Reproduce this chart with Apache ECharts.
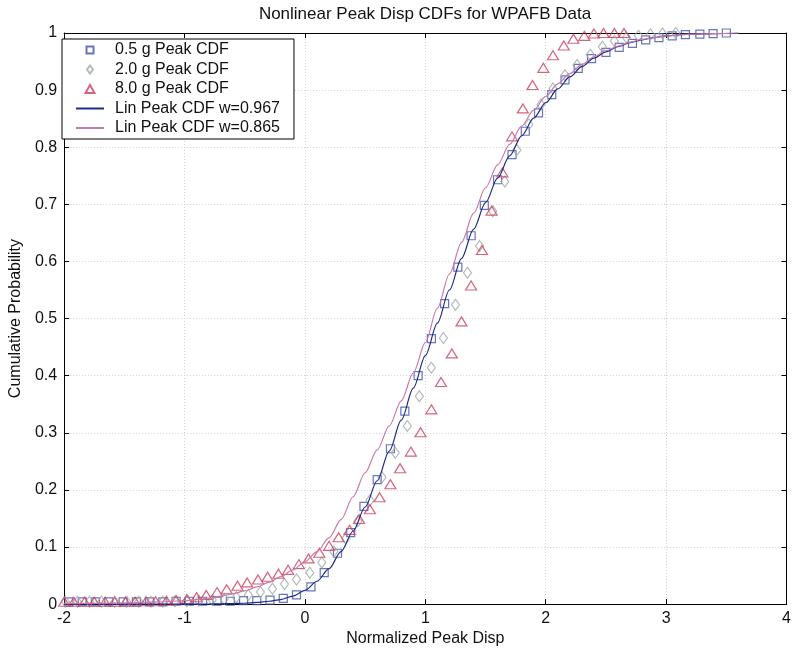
<!DOCTYPE html>
<html>
<head>
<meta charset="utf-8">
<script src="https://cdn.jsdelivr.net/npm/echarts@6/dist/echarts.min.js"></script>
<style>
html,body{margin:0;padding:0;background:#fff;}
#c{width:794px;height:652px;}
</style>
</head>
<body>
<div id="c"></div>
<script>
// ---- data ----
var titleText = 'Nonlinear Peak Disp CDFs for WPAFB Data';
var xName = 'Normalized Peak Disp';
var yName = 'Cumulative Probability';
var seriesNames = ['0.5 g Peak CDF', '2.0 g Peak CDF', '8.0 g Peak CDF', 'Lin Peak CDF w=0.967', 'Lin Peak CDF w=0.865'];

// 0.5 g (squares)
var sqX = [-1.96,-1.85,-1.74,-1.63,-1.51,-1.40,-1.29,-1.18,-1.07,-0.96,-0.85,-0.73,-0.62,-0.51,-0.40,-0.29,-0.18,-0.07,0.05,0.16,0.27,0.38,0.49,0.60,0.71,0.83,0.94,1.05,1.16,1.27,1.38,1.49,1.60,1.72,1.83,1.94,2.05,2.16,2.27,2.38,2.50,2.61,2.72,2.83,2.94,3.05,3.16,3.28,3.39,3.50];
var sqY = [0.004,0.004,0.004,0.004,0.004,0.004,0.004,0.004,0.005,0.005,0.005,0.005,0.005,0.006,0.006,0.007,0.010,0.016,0.030,0.055,0.089,0.125,0.171,0.218,0.272,0.338,0.400,0.465,0.526,0.590,0.645,0.698,0.743,0.787,0.828,0.860,0.892,0.918,0.938,0.955,0.966,0.975,0.982,0.988,0.992,0.995,0.997,0.998,0.999,1.000];

// 2.0 g (diamonds)
var dmX = [-1.99,-1.89,-1.79,-1.69,-1.58,-1.48,-1.38,-1.28,-1.18,-1.08,-0.98,-0.88,-0.77,-0.67,-0.57,-0.47,-0.37,-0.27,-0.17,-0.07,0.04,0.14,0.24,0.34,0.44,0.54,0.64,0.75,0.85,0.95,1.05,1.15,1.25,1.35,1.45,1.56,1.66,1.76,1.86,1.96,2.06,2.16,2.26,2.37,2.47,2.57,2.67,2.77,2.87,2.97,3.08];
var dmY = [0.004,0.004,0.004,0.004,0.004,0.004,0.004,0.004,0.004,0.005,0.005,0.006,0.007,0.009,0.012,0.016,0.021,0.027,0.035,0.043,0.055,0.073,0.092,0.115,0.145,0.182,0.222,0.265,0.312,0.364,0.414,0.466,0.524,0.580,0.627,0.688,0.740,0.795,0.840,0.875,0.903,0.926,0.944,0.962,0.976,0.986,0.992,0.995,0.998,0.999,1.000];

// 8.0 g (triangles)
var trX = [-2.00,-1.92,-1.83,-1.75,-1.66,-1.58,-1.49,-1.41,-1.32,-1.24,-1.15,-1.07,-0.98,-0.90,-0.82,-0.73,-0.65,-0.56,-0.48,-0.39,-0.31,-0.22,-0.14,-0.05,0.03,0.12,0.20,0.28,0.37,0.45,0.54,0.62,0.71,0.79,0.88,0.96,1.05,1.13,1.22,1.30,1.38,1.47,1.55,1.64,1.72,1.81,1.89,1.98,2.06,2.15,2.23,2.32,2.40,2.48,2.57,2.65];
var trY = [0.004,0.004,0.004,0.004,0.004,0.004,0.004,0.004,0.005,0.005,0.006,0.007,0.009,0.012,0.016,0.021,0.026,0.032,0.038,0.043,0.048,0.053,0.060,0.070,0.080,0.090,0.102,0.117,0.130,0.149,0.166,0.187,0.210,0.238,0.267,0.301,0.341,0.389,0.439,0.495,0.558,0.620,0.689,0.756,0.819,0.868,0.909,0.939,0.961,0.978,0.990,0.995,0.999,1.000,1.000,1.000];

// fitted linear CDF curves
var lineX = [-2.0,-1.5,-1.2,-1.0,-0.9,-0.8,-0.7,-0.6,-0.5,-0.4,-0.3,-0.2,-0.1,0.0,0.1,0.2,0.3,0.4,0.5,0.6,0.7,0.8,0.9,1.0,1.1,1.2,1.3,1.4,1.5,1.6,1.7,1.8,1.9,2.0,2.1,2.2,2.3,2.4,2.5,2.6,2.7,2.8,2.9,3.0,3.2,3.4,3.6];
var lin967Y = [0,0,0,0,0,0,0.0005,0.001,0.0015,0.003,0.005,0.008,0.014,0.024,0.040,0.062,0.092,0.128,0.170,0.216,0.268,0.322,0.378,0.435,0.492,0.550,0.605,0.656,0.703,0.746,0.785,0.820,0.851,0.878,0.902,0.923,0.941,0.956,0.967,0.976,0.983,0.988,0.992,0.995,0.998,0.999,1.000];
var lin865Y = [0.001,0.002,0.004,0.006,0.008,0.010,0.014,0.018,0.023,0.030,0.038,0.048,0.060,0.074,0.092,0.116,0.148,0.188,0.230,0.270,0.312,0.356,0.405,0.458,0.518,0.578,0.633,0.684,0.729,0.769,0.805,0.837,0.865,0.889,0.911,0.929,0.945,0.958,0.969,0.977,0.984,0.989,0.992,0.995,0.998,0.999,1.000];

var xTicks = {min: -2, max: 4, interval: 1};
var yTicks = {min: 0, max: 1, interval: 0.1};

function pairs(xs, ys) { return xs.map(function (x, i) { return [x, ys[i]]; }); }

var FONT = 'Liberation Sans, Arial, sans-serif';
var chart = echarts.init(document.getElementById('c'), null, {renderer: 'canvas'});

var axisCommon = {
  axisLine: {show: true, onZero: false, lineStyle: {color: '#000', width: 1}},
  axisTick: {show: true, inside: true, length: 5, lineStyle: {color: '#000'}},
};
var gridLine = {show: true, lineStyle: {color: '#d2d2d2', type: [1, 2], width: 1}};

var C_SQ = '#4352a8', C_DM = '#9eaaa8', C_TR = '#cc3f5c', C_L1 = '#1f2c8a', C_L2 = '#c97aa9';

// legend marker icons drawn in a 28x8 box (marker centred, empty ends)
var ICON_SQ = 'path://M0,4L0,4M10.5,0.5L17.5,0.5L17.5,7.5L10.5,7.5ZM28,4L28,4';
var ICON_DM = 'path://M0,4L0,4M14,0L17,4L14,8L11,4ZM28,4L28,4';
var ICON_TR = 'path://M0,4L0,4M14,0L18.5,8L9.5,8ZM28,4L28,4';

chart.setOption({
  animation: false,
  backgroundColor: '#fff',
  title: {
    text: titleText, left: 420, top: 1, textAlign: 'center',
    textStyle: {fontFamily: FONT, fontSize: 17, fontWeight: 'normal', color: '#111'}
  },
  grid: {left: 59, right: 5, top: 33, bottom: 47, show: false},
  legend: {
    orient: 'vertical', left: 62, top: 39,
    padding: [3, 14, 3, 13], itemGap: 3.5, itemWidth: 28, itemHeight: 8,
    backgroundColor: '#fff', borderColor: '#000', borderWidth: 1,
    textStyle: {fontFamily: FONT, fontSize: 16, color: '#111', lineHeight: 16, padding: [0, 0, 0, 6]},
    data: [
      {name: seriesNames[0], icon: ICON_SQ},
      {name: seriesNames[1], icon: ICON_DM},
      {name: seriesNames[2], icon: ICON_TR},
      {name: seriesNames[3], itemStyle: {opacity: 0}},
      {name: seriesNames[4], itemStyle: {opacity: 0}}
    ]
  },
  xAxis: [
    Object.assign({
      type: 'value', min: xTicks.min, max: xTicks.max, interval: xTicks.interval,
      name: xName, nameLocation: 'middle', nameGap: 18,
      nameTextStyle: {fontFamily: FONT, fontSize: 16, color: '#111'},
      axisLabel: {fontFamily: FONT, fontSize: 16, color: '#111', margin: 6},
      splitLine: gridLine
    }, axisCommon),
    Object.assign({
      type: 'value', position: 'top', min: xTicks.min, max: xTicks.max, interval: xTicks.interval,
      axisLabel: {show: false}, splitLine: {show: false}
    }, axisCommon)
  ],
  yAxis: [
    Object.assign({
      type: 'value', min: yTicks.min, max: yTicks.max, interval: yTicks.interval,
      name: yName, nameLocation: 'middle', nameGap: 31, nameRotate: 90,
      nameTextStyle: {fontFamily: FONT, fontSize: 16, color: '#111'},
      axisLabel: {fontFamily: FONT, fontSize: 16, color: '#111', margin: 7},
      splitLine: gridLine
    }, axisCommon),
    Object.assign({
      type: 'value', position: 'right', min: yTicks.min, max: yTicks.max, interval: yTicks.interval,
      axisLabel: {show: false}, splitLine: {show: false}
    }, axisCommon)
  ],
  series: [
    {
      name: seriesNames[0], type: 'scatter', data: pairs(sqX, sqY),
      symbol: 'rect', symbolSize: 8, z: 3,
      itemStyle: {color: 'rgba(255,255,255,0)', borderColor: C_SQ, borderWidth: 1.2}
    },
    {
      name: seriesNames[1], type: 'scatter', data: pairs(dmX, dmY),
      symbol: 'diamond', symbolSize: [8, 11], z: 3,
      itemStyle: {color: 'rgba(255,255,255,0)', borderColor: C_DM, borderWidth: 1.2}
    },
    {
      name: seriesNames[2], type: 'scatter', data: pairs(trX, trY),
      symbol: 'triangle', symbolSize: [11, 9], z: 3,
      itemStyle: {color: 'rgba(255,255,255,0)', borderColor: C_TR, borderWidth: 1.2}
    },
    {
      name: seriesNames[3], type: 'line', data: pairs(lineX, lin967Y),
      symbol: 'none', smooth: 0.3, smoothMonotone: 'x', z: 4,
      lineStyle: {color: C_L1, width: 1.2}, itemStyle: {color: C_L1}
    },
    {
      name: seriesNames[4], type: 'line', data: pairs(lineX, lin865Y),
      symbol: 'none', smooth: 0.3, smoothMonotone: 'x', z: 4,
      lineStyle: {color: C_L2, width: 1.2}, itemStyle: {color: C_L2}
    }
  ]
});
</script>
</body>
</html>
